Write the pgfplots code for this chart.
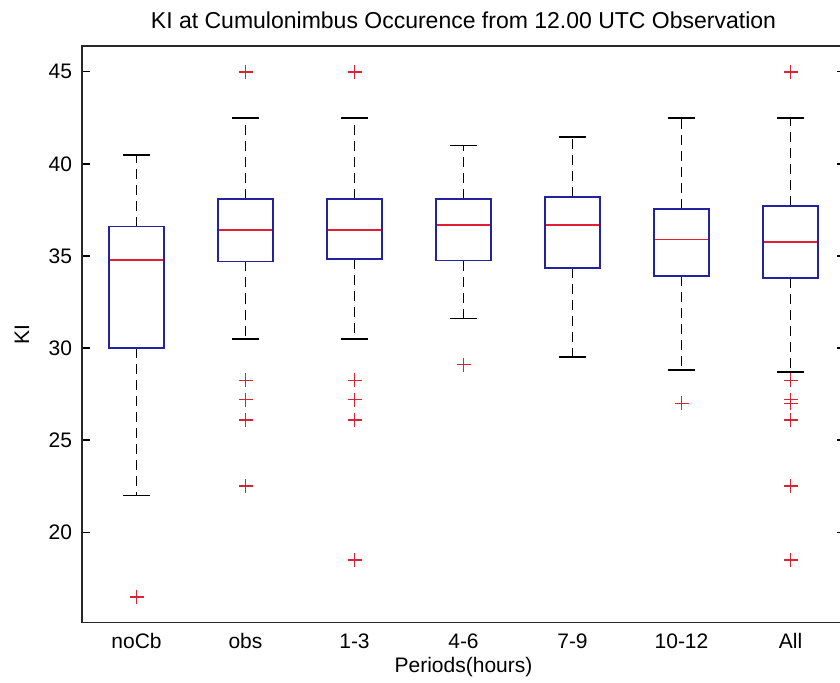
\documentclass[border=0pt]{standalone}
\usepackage{fontspec}
\setmainfont{Liberation Sans}
\usepackage{pgfplots}
\pgfplotsset{compat=1.18}
\definecolor{boxblue}{RGB}{35,35,160}
\definecolor{medred}{RGB}{225,30,50}
\definecolor{outred}{RGB}{215,35,50}
\definecolor{axgray}{RGB}{40,40,40}
\begin{document}
\begin{tikzpicture}
\begin{axis}[
  at={(41pt,29.75pt)}, anchor=south west,
  scale only axis, width=381.5pt, height=288.25pt,
  xmin=0.5, xmax=7.5, ymin=15.1, ymax=46.4,
  xtick={1,2,3,4,5,6,7},
  xticklabels={noCb,obs,1-3,4-6,7-9,10-12,All},
  ytick={20,25,30,35,40,45},
  axis line style={axgray, line width=0.8pt},
  x tick style={draw=none},
  y tick style={black, line width=0.7pt},
  major tick length=4pt,
  tick align=inside,
  unbounded coords=jump,
  /pgf/number format/assume math mode=true,
  ticklabel style={font=\fontsize{10.5}{12}\selectfont},
  yticklabel style={inner sep=0pt, xshift=-4.75pt},
  xticklabel style={anchor=base, yshift=-12.75pt, inner sep=0pt},
  xlabel={Periods(hours)},
  xlabel style={at={(axis description cs:0.5,0)}, anchor=base, yshift=-24.75pt, font=\fontsize{10.5}{12}\selectfont, inner sep=0pt},
  ylabel={KI},
  ylabel style={at={(axis description cs:0,0.5)}, anchor=center, yshift=30pt, font=\fontsize{10.5}{12}\selectfont},
  title={KI at Cumulonimbus Occurence from 12.00 UTC Observation},
  title style={at={(axis description cs:0.5,1)}, anchor=base, yshift=2.5pt, font=\fontsize{11.5}{13}\selectfont, inner sep=0pt},
  clip=false,
]
% whiskers (dashed): quartile -> whisker end
\addplot[black, line width=0.85pt, dash pattern=on 5pt off 3pt, line cap=butt] coordinates {
  (1,36.6) (1,40.5) (1,nan) (1,30.0) (1,22.0) (1,nan)
  (2,38.1) (2,42.5) (2,nan) (2,34.7) (2,30.5) (2,nan)
  (3,38.1) (3,42.5) (3,nan) (3,34.85) (3,30.5) (3,nan)
  (4,38.1) (4,41.0) (4,nan) (4,34.75) (4,31.6) (4,nan)
  (5,38.2) (5,41.45) (5,nan) (5,34.35) (5,29.5) (5,nan)
  (6,37.55) (6,42.5) (6,nan) (6,33.9) (6,28.8) (6,nan)
  (7,37.7) (7,42.5) (7,nan) (7,33.8) (7,28.7)
};
% whisker caps
\addplot[black, line width=0.85pt] coordinates {
  (0.875,40.5) (1.125,40.5) (1,nan) (0.875,22.0) (1.125,22.0) (1,nan)
  (1.875,42.5) (2.125,42.5) (2,nan) (1.875,30.5) (2.125,30.5) (2,nan)
  (2.875,42.5) (3.125,42.5) (3,nan) (2.875,30.5) (3.125,30.5) (3,nan)
  (3.875,41.0) (4.125,41.0) (4,nan) (3.875,31.6) (4.125,31.6) (4,nan)
  (4.875,41.45) (5.125,41.45) (5,nan) (4.875,29.5) (5.125,29.5) (5,nan)
  (5.875,42.5) (6.125,42.5) (6,nan) (5.875,28.8) (6.125,28.8) (6,nan)
  (6.875,42.5) (7.125,42.5) (7,nan) (6.875,28.7) (7.125,28.7)
};
% boxes (lower to upper quartile)
\addplot[boxblue, line width=0.85pt, line join=miter] coordinates {
  (0.75,30.0) (1.25,30.0) (1.25,36.6) (0.75,36.6) (0.75,30.0) (1.25,30.0) (1,nan)
  (1.75,34.7) (2.25,34.7) (2.25,38.1) (1.75,38.1) (1.75,34.7) (2.25,34.7) (2,nan)
  (2.75,34.85) (3.25,34.85) (3.25,38.1) (2.75,38.1) (2.75,34.85) (3.25,34.85) (3,nan)
  (3.75,34.75) (4.25,34.75) (4.25,38.1) (3.75,38.1) (3.75,34.75) (4.25,34.75) (4,nan)
  (4.75,34.35) (5.25,34.35) (5.25,38.2) (4.75,38.2) (4.75,34.35) (5.25,34.35) (5,nan)
  (5.75,33.9) (6.25,33.9) (6.25,37.55) (5.75,37.55) (5.75,33.9) (6.25,33.9) (6,nan)
  (6.75,33.8) (7.25,33.8) (7.25,37.7) (6.75,37.7) (6.75,33.8) (7.25,33.8)
};
% medians
\addplot[medred, line width=0.85pt] coordinates {
  (0.76,34.8) (1.24,34.8) (1,nan)
  (1.76,36.4) (2.24,36.4) (2,nan)
  (2.76,36.4) (3.24,36.4) (3,nan)
  (3.76,36.7) (4.24,36.7) (4,nan)
  (4.76,36.7) (5.24,36.7) (5,nan)
  (5.76,35.9) (6.24,35.9) (6,nan)
  (6.76,35.75) (7.24,35.75)
};
% outliers
\addplot[only marks, color=outred, mark=+, mark size=3.5pt, mark options={line width=0.8pt, solid}] coordinates {
  (1,16.5)
  (2,45) (2,28.25) (2,27.2) (2,26.1) (2,22.5)
  (3,45) (3,28.25) (3,27.2) (3,26.1) (3,18.5)
  (4,29.1)
  (6,27.0)
  (7,45) (7,28.25) (7,27.2) (7,27.0) (7,26.1) (7,22.5) (7,18.5)
};
\end{axis}
\pgfresetboundingbox
\useasboundingbox (0,0) rectangle (420pt,341pt);
\end{tikzpicture}
\end{document}
